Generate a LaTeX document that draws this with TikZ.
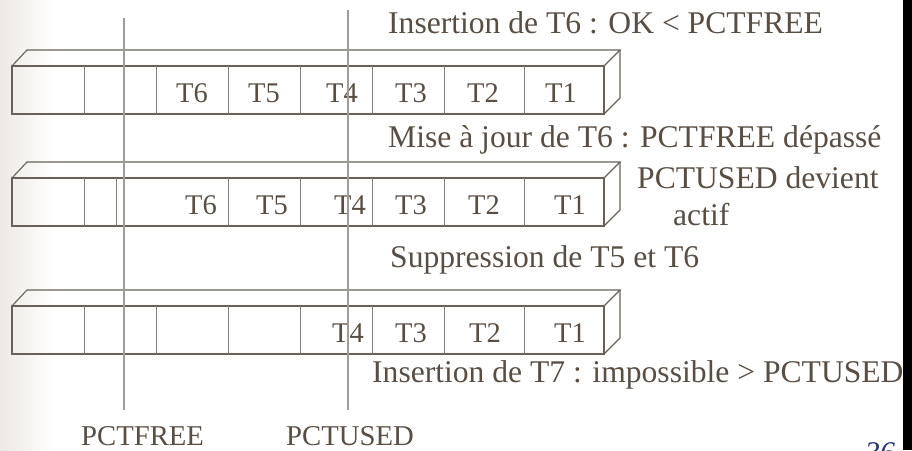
\documentclass[tikz,border=0pt]{standalone}
\usepackage{fontspec}
\setmainfont{Liberation Serif}
\definecolor{txt}{RGB}{88,78,68}
\definecolor{boxc}{RGB}{105,96,88}
\definecolor{vline}{RGB}{160,155,150}
\definecolor{numblue}{RGB}{40,50,120}
\definecolor{shadeg}{RGB}{236,233,228}
\newcommand\pageblock[2]{%
  % #1 = y of front top, #2 = list of divider x positions
  \draw[boxline] (12,#1) rectangle (604,#1+48);
  \draw[boxline] (12,#1) -- (27,#1-16) -- (620,#1-16) -- (604,#1);
  \draw[boxline] (620,#1-16) -- (620,#1+32) -- (604,#1+48);
  \foreach \xx in {#2} {\draw[cellline] (\xx,#1) -- (\xx,#1+48);}
}
\begin{document}
\begin{tikzpicture}[x=1pt,y=-1pt,
  lbl/.style={text=txt, inner sep=0pt, font=\fontsize{28.5}{30}\selectfont},
  cell/.style={lbl, anchor=base},
  note/.style={lbl, anchor=base west, font=\fontsize{31.6}{33}\selectfont},
  axislbl/.style={lbl, anchor=base west, font=\fontsize{28.7}{30}\selectfont},
  boxline/.style={draw=boxc, line width=1.1pt},
  cellline/.style={draw=boxc!80, line width=1pt},
  limit/.style={draw=vline, line width=1.1pt}]
\useasboundingbox (0,0) rectangle (912,450);
\shade[left color=shadeg, right color=white] (0,0) rectangle (55,450);

% block 1
\pageblock{66}{84,156,228,300,372,444,524}
\node[cell] (a6) at (192,102) {T6};
\node[cell] (a5) at (264,102) {T5};
\node[cell] (a4) at (342,102) {T4};
\node[cell] (a3) at (411,102) {T3};
\node[cell] (a2) at (483,102) {T2};
\node[cell] (a1) at (561,102) {T1};

% block 2
\pageblock{178}{84,116,228,300,372,444,524}
\node[cell] (b6) at (201,214) {T6};
\node[cell] (b5) at (272,214) {T5};
\node[cell] (b4) at (350,214) {T4};
\node[cell] (b3) at (411,214) {T3};
\node[cell] (b2) at (484,214) {T2};
\node[cell] (b1) at (570,214) {T1};

% block 3
\pageblock{306}{84,156,228,300,372,444,524}
\node[cell] (c4) at (348,342) {T4};
\node[cell] (c3) at (411,342) {T3};
\node[cell] (c2) at (485,342) {T2};
\node[cell] (c1) at (570,342) {T1};

% limits
\coordinate (pftop) at (124,18);
\coordinate (pfbot) at (124,410);
\coordinate (putop) at (348,10);
\coordinate (pubot) at (348,410);
\draw[limit] (pftop) -- (pfbot);
\draw[limit] (putop) -- (pubot);

% notes
\node[note] (n1) at (388,33) {Insertion de T6 : OK < PCTFREE};
\node[note] (n2) at (388,147) {Mise à jour de T6 : PCTFREE dépassé};
\node[note] (n3) at (637,188) {PCTUSED devient};
\node[note] (n4) at (673,225) {actif};
\node[note] (n5) at (390,267) {Suppression de T5 et T6};
\node[note] (n6) at (372,382) {Insertion de T7 : impossible > PCTUSED};
\node[axislbl] (pf) at (81,445) {PCTFREE};
\node[axislbl] (pu) at (286,445) {PCTUSED};
\node[anchor=base west, inner sep=0pt, text=numblue, font=\fontsize{30}{30}\selectfont\itshape] (num) at (865,462) {36};
\fill[black] (903,0) rectangle (912,450);
\end{tikzpicture}
\end{document}
